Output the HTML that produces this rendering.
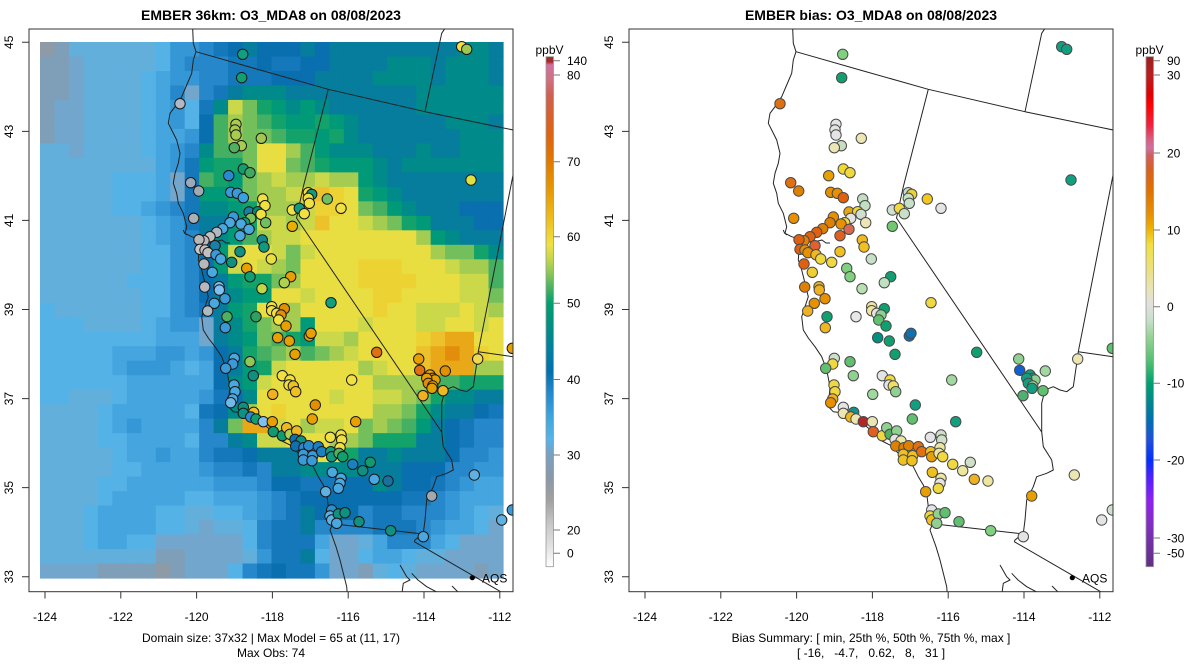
<!DOCTYPE html>
<html>
<head>
<meta charset="utf-8">
<style>
  html,body{margin:0;padding:0;background:#fff;}
  svg{display:block;}
  text{font-family:"Liberation Sans", Arial, sans-serif;fill:#000;}
</style>
</head>
<body>
<svg id="root" width="1200" height="672" viewBox="0 0 1200 672" xmlns="http://www.w3.org/2000/svg">
  <defs>
    <clipPath id="clipBox"><rect x="29" y="29" width="484" height="562.7"/></clipPath>
    <linearGradient id="cbL" x1="0" y1="0" x2="0" y2="1">
      <stop offset="0.000" stop-color="#a52a2a"/>
      <stop offset="0.010" stop-color="#a52a2a"/>
      <stop offset="0.016" stop-color="#d070a0"/>
      <stop offset="0.045" stop-color="#d07080"/>
      <stop offset="0.075" stop-color="#d06050"/>
      <stop offset="0.114" stop-color="#d86030"/>
      <stop offset="0.153" stop-color="#dc6410"/>
      <stop offset="0.202" stop-color="#e07800"/>
      <stop offset="0.261" stop-color="#e89800"/>
      <stop offset="0.310" stop-color="#ecb818"/>
      <stop offset="0.344" stop-color="#f0d030"/>
      <stop offset="0.369" stop-color="#f0e040"/>
      <stop offset="0.395" stop-color="#c8d848"/>
      <stop offset="0.422" stop-color="#90c858"/>
      <stop offset="0.457" stop-color="#40b060"/>
      <stop offset="0.483" stop-color="#00a070"/>
      <stop offset="0.526" stop-color="#009080"/>
      <stop offset="0.575" stop-color="#0080a0"/>
      <stop offset="0.618" stop-color="#0070b0"/>
      <stop offset="0.657" stop-color="#2088cc"/>
      <stop offset="0.712" stop-color="#40a8e0"/>
      <stop offset="0.751" stop-color="#56b4e9"/>
      <stop offset="0.781" stop-color="#7aa0c0"/>
      <stop offset="0.826" stop-color="#8a98a8"/>
      <stop offset="0.869" stop-color="#a0a0a0"/>
      <stop offset="0.918" stop-color="#c8c8c8"/>
      <stop offset="0.958" stop-color="#e0e0e0"/>
      <stop offset="1.000" stop-color="#ffffff"/>
    </linearGradient>
    <linearGradient id="cbR" x1="0" y1="0" x2="0" y2="1">
      <stop offset="0.000" stop-color="#9a2020"/>
      <stop offset="0.036" stop-color="#b82020"/>
      <stop offset="0.075" stop-color="#e00000"/>
      <stop offset="0.095" stop-color="#ff0000"/>
      <stop offset="0.134" stop-color="#f02040"/>
      <stop offset="0.163" stop-color="#d86080"/>
      <stop offset="0.179" stop-color="#d070a0"/>
      <stop offset="0.193" stop-color="#d06060"/>
      <stop offset="0.222" stop-color="#d86020"/>
      <stop offset="0.261" stop-color="#e07000"/>
      <stop offset="0.310" stop-color="#e89000"/>
      <stop offset="0.336" stop-color="#eeb000"/>
      <stop offset="0.369" stop-color="#f0e040"/>
      <stop offset="0.418" stop-color="#ece080"/>
      <stop offset="0.457" stop-color="#e8e4b8"/>
      <stop offset="0.487" stop-color="#e0e0e0"/>
      <stop offset="0.516" stop-color="#c8e0c8"/>
      <stop offset="0.555" stop-color="#90d090"/>
      <stop offset="0.598" stop-color="#50c070"/>
      <stop offset="0.640" stop-color="#00a070"/>
      <stop offset="0.673" stop-color="#008a8a"/>
      <stop offset="0.712" stop-color="#0070b0"/>
      <stop offset="0.751" stop-color="#2050d8"/>
      <stop offset="0.791" stop-color="#0030ff"/>
      <stop offset="0.826" stop-color="#5020ff"/>
      <stop offset="0.869" stop-color="#9020f0"/>
      <stop offset="0.918" stop-color="#8030c0"/>
      <stop offset="1.000" stop-color="#603080"/>
    </linearGradient>
  </defs>

  <!-- Titles -->
  <text x="271" y="20" font-size="14" font-weight="bold" text-anchor="middle">EMBER 36km: O3_MDA8 on 08/08/2023</text>
  <text x="871" y="20" font-size="14" font-weight="bold" text-anchor="middle">EMBER bias: O3_MDA8 on 08/08/2023</text>

  <!-- Map groups (filled by script) -->
  <g id="panelL"><g id="mapL" clip-path="url(#clipBox)"></g></g>
  <g id="panelR" transform="translate(600,0)"><g id="mapR" clip-path="url(#clipBox)"></g></g>

  <!-- Axes -->
  <g stroke="#333" stroke-width="1" fill="none">
    <rect x="29" y="29" width="484" height="562.7"/>
    <rect x="629" y="29" width="484" height="562.7"/>
    <path d="M22 42.3H29M22 131.4H29M22 220.4H29M22 309.5H29M22 398.6H29M22 487.6H29M22 576.7H29"/>
    <path d="M622 42.3H629M622 131.4H629M622 220.4H629M622 309.5H629M622 398.6H629M622 487.6H629M622 576.7H629"/>
    <path d="M45 591.7V598.5M120.8 591.7V598.5M196.6 591.7V598.5M272.4 591.7V598.5M348.2 591.7V598.5M424 591.7V598.5M499.8 591.7V598.5"/>
    <path d="M645 591.7V598.5M720.8 591.7V598.5M796.6 591.7V598.5M872.4 591.7V598.5M948.2 591.7V598.5M1024 591.7V598.5M1099.8 591.7V598.5"/>
  </g>
  <g font-size="12" text-anchor="middle">
    <text transform="translate(13,42.3) rotate(-90)">45</text>
    <text transform="translate(13,131.4) rotate(-90)">43</text>
    <text transform="translate(13,220.4) rotate(-90)">41</text>
    <text transform="translate(13,309.5) rotate(-90)">39</text>
    <text transform="translate(13,398.6) rotate(-90)">37</text>
    <text transform="translate(13,487.6) rotate(-90)">35</text>
    <text transform="translate(13,576.7) rotate(-90)">33</text>
    <text transform="translate(613,42.3) rotate(-90)">45</text>
    <text transform="translate(613,131.4) rotate(-90)">43</text>
    <text transform="translate(613,220.4) rotate(-90)">41</text>
    <text transform="translate(613,309.5) rotate(-90)">39</text>
    <text transform="translate(613,398.6) rotate(-90)">37</text>
    <text transform="translate(613,487.6) rotate(-90)">35</text>
    <text transform="translate(613,576.7) rotate(-90)">33</text>
    <text x="45" y="621">-124</text>
    <text x="120.8" y="621">-122</text>
    <text x="196.6" y="621">-120</text>
    <text x="272.4" y="621">-118</text>
    <text x="348.2" y="621">-116</text>
    <text x="424" y="621">-114</text>
    <text x="499.8" y="621">-112</text>
    <text x="645" y="621">-124</text>
    <text x="720.8" y="621">-122</text>
    <text x="796.6" y="621">-120</text>
    <text x="872.4" y="621">-118</text>
    <text x="948.2" y="621">-116</text>
    <text x="1024" y="621">-114</text>
    <text x="1099.8" y="621">-112</text>
    <text x="271" y="642">Domain size: 37x32 | Max Model = 65 at (11, 17)</text>
    <text x="271" y="657">Max Obs: 74</text>
    <text x="871" y="642">Bias Summary: [ min, 25th %, 50th %, 75th %, max ]</text>
    <text x="871" y="657" xml:space="preserve">[ -16,   -4.7,   0.62,   8,   31 ]</text>
  </g>

  <!-- AQS labels -->
  <circle cx="472.3" cy="577.7" r="2.6" fill="#000"/>
  <text x="482" y="582.5" font-size="12">AQS</text>
  <circle cx="1072.3" cy="577.7" r="2.6" fill="#000"/>
  <text x="1082" y="582.5" font-size="12">AQS</text>

  <!-- Left colorbar -->
  <rect x="546" y="56.7" width="7.5" height="510" fill="url(#cbL)" stroke="#999" stroke-width="0.8"/>
  <g stroke="#777" stroke-width="1">
    <path d="M553.5 60.7H560M553.5 75H560M553.5 161.7H560M553.5 236.7H560M553.5 303.3H560M553.5 379.5H560M553.5 455H560M553.5 530H560M553.5 553.3H560"/>
  </g>
  <g font-size="12">
    <text x="549.5" y="54" text-anchor="middle">ppbV</text>
    <text x="567" y="65">140</text>
    <text x="567" y="79.5">80</text>
    <text x="567" y="166">70</text>
    <text x="567" y="241">60</text>
    <text x="567" y="307.5">50</text>
    <text x="567" y="384">40</text>
    <text x="567" y="459.5">30</text>
    <text x="567" y="534.5">20</text>
    <text x="567" y="557.5">0</text>
  </g>

  <!-- Right colorbar -->
  <rect x="1146" y="56.7" width="7.5" height="510" fill="url(#cbR)" stroke="#999" stroke-width="0.8"/>
  <g stroke="#777" stroke-width="1">
    <path d="M1153.5 60.7H1160M1153.5 75H1160M1153.5 153H1160M1153.5 230H1160M1153.5 306.7H1160M1153.5 383.3H1160M1153.5 460H1160M1153.5 538H1160M1153.5 553.3H1160"/>
  </g>
  <g font-size="12">
    <text x="1149.5" y="54" text-anchor="middle">ppbV</text>
    <text x="1167" y="65">90</text>
    <text x="1167" y="79.5">30</text>
    <text x="1167" y="157.5">20</text>
    <text x="1167" y="234.5">10</text>
    <text x="1167" y="311">0</text>
    <text x="1167" y="387.5">-10</text>
    <text x="1167" y="464.5">-20</text>
    <text x="1167" y="542.5">-30</text>
    <text x="1167" y="557.5">-50</text>
  </g>
</svg>

<script>
(function(){
  var NS="http://www.w3.org/2000/svg";
  var cmap={A:'#8e9aa5',B:'#7f9fb8',C:'#72a6cc',D:'#62afdc',E:'#55b2e6',F:'#44a5df',G:'#3597d5',H:'#2688ca',I:'#1478bb',J:'#0a6fae',K:'#067d9c',L:'#008b8a',M:'#009a78',N:'#13a26a',O:'#45b062',P:'#72bf5c',Q:'#a4cc50',R:'#cbd849',S:'#e8de42',T:'#edd234',U:'#ecc12c',V:'#e9a818',W:'#e28e0c'};
  var rows=[
"AB"+"DDDDDD"+"EGGHIJKJJJ"+"KJKKKKKKKKKLLK",
"BB"+"CDDDDD"+"EGHHHIIJII"+"JJKKKKLLLKLLLK",
"BBCDDDDE"+"FGGHHIIIJJ"+"JKKKKLLLLKLLLK",
"BBCDDDDE"+"FHCHIKLLLK"+"KKKKKKKKLLLLLL",
"BCCDDDDE"+"FGEILRPNML"+"MLKKKKKKLLLLLL",
"BCCDDDDE"+"FGEJOQPONM"+"MNMLKKKKKKLLLK",
"BCCDDDDE"+"FFGJOQPPON"+"NMNLKKKKKKKLLL",
"DDCDDDDE"+"FGHLOOPSSQ"+"OMLLLKKKLKKLLL",
"DDDDDDDD"+"FGIMNNPSSP"+"ONMMMLKLLLLLLL",
"DDDDDEEE"+"FCIONMPQRQ"+"QRQQMLKKKKKKKK",
"DDDDDEEE"+"FCIMMNPQQR"+"TUTSNMLKKKKKKK",
"DDDDDEEF"+"GHILLMNQQQ"+"RTTSPOMLKKKJJJ",
"DDDDDDDE"+"FGIKKMNRRQ"+"RUSSRQPNMKKKJJ",
"DDDDDDDE"+"FGHKLMOQRR"+"SSSSSSSSQMLKKK",
"DDDDDDDE"+"EGHJMRSSRP"+"RSSSSSSSSQPPNL",
"DDDDDDDE"+"EGHJMRSRQP"+"SSSSTTTSSSRQQO",
"DDDDDDEE"+"EGHJKMNNPQ"+"SSSSTTTTSSSRRO",
"DDDDDDDE"+"EGHJKLMMSS"+"RSSSSTTSSSSRRP",
"EDDDDDDE"+"EGHIKMNSSQ"+"SSSSSTSSRRRSRQ",
"EEEDDDDE"+"FGGCKLNPQQ"+"MSSSRSSSRRSSRS",
"EEEEEEEE"+"FFFCKLMPON"+"MRRQSSSSTUVVSS",
"EEEEEFFF"+"GGFGJKNOPQ"+"OPQRSSSSUVWVTS",
"EEEEEFGG"+"GFEFJKMNRS"+"SSSSQRSSUVVVQQ",
"EEEEEEFF"+"FFFFJLMRSS"+"SSSSSQQQQOONNN",
"EEDDDEFF"+"FFFGIJLSSS"+"SSRSSRRQPNLLKK",
"DDDDEFFF"+"FFEIJLQSTS"+"SSSSSQQPNLKKJI",
"DDDDEFGF"+"FFFHKPVVRS"+"QRRSPQPOMKJIHH",
"DDDDEEFF"+"FFEHHKLRRS"+"SSQQPNNNKKJIHH",
"DDDDDEFF"+"GFFHIIJKKK"+"SSSNKKLKKKJHHG",
"DDDDDEEF"+"FFFGHHIHKK"+"LLLLKKKJJJHHGG",
"DDDDEEFF"+"FFFFGGGHJJ"+"IIIJJLKJJIHGFF",
"DDDDEFFF"+"FFEEFFFGHI"+"JJJJJJJIIHGFFF",
"DDDEFFFF"+"EEDDEEFGHI"+"KJJJHIIHHHGFED",
"DDDEFFFF"+"EEDCDDEHII"+"KHHHHIIIHGFFEC",
"DDDEFFEE"+"CCCCCCEHII"+"IFCCDFHHHFECCC",
"DDDDDDDD"+"BBCCCCDGII"+"KECCEFFEDDCCCC",
"CCCCBBBB"+"ABCCCEHIJI"+"IGCCBDEDCCCCBC"
  ];
  function el(tag,attrs,parent){var e=document.createElementNS(NS,tag);for(var k in attrs)e.setAttribute(k,attrs[k]);if(parent)parent.appendChild(e);return e;}

  var mapL=document.getElementById('mapL'), mapR=document.getElementById('mapR');
  var x0=40,y0=42,cw=463/32,ch=536/37;
  for(var r=0;r<37;r++){
    var s=rows[r]; while(s.length<32)s+=s.charAt(s.length-1);
    for(var c=0;c<32;c++){
      var col=cmap[s.charAt(c)]||'#62afdc';
      el('rect',{x:(x0+c*cw).toFixed(2),y:(y0+r*ch).toFixed(2),width:(cw+0.6).toFixed(2),height:(ch+0.6).toFixed(2),fill:col},mapL);
    }
  }
  var lines=[
    [[192.7,29],[193.3,43.3],[196,51.7],[193.3,60],[191.7,73.3],[186.7,85],[181.7,96.7],[175,106.7],[170,113.3],[168.3,123.3],[171.7,130],[176.7,140],[180,153.3],[178.3,163.3],[175,173.3],[173.3,183.3],[176.7,193.3],[178.3,203.3],[183.3,213.3],[186.7,226.7],[185,233.3],[191.7,236.7],[196,238],[200,243.3],[199,250],[198.3,260],[201.7,270],[205,283.3],[208.3,296.7],[205,306.7],[201.7,316.7],[203.3,330],[208.3,338],[215,346.7],[221.7,356.7],[226.7,370],[230,386.7],[228.3,406.7],[233.3,411.7],[246.7,413.3],[256.7,420],[266.7,426.7],[276.7,435],[280,440],[290,445],[298.3,453.3],[306.7,460],[313.3,466.7],[318.3,476.7],[323.3,485],[326.7,493.3],[328.3,506.7],[330,516.7],[333,523],[330,530],[336,546.7],[340,560],[341.7,566.7],[346.7,586.7],[347.3,595]],
    [[200,243.3],[206,241],[213,243],[218,241],[222,240],[226,243],[230,243]],
    [[183.3,230],[184.5,233],[187,235]],
    [[196,51.7],[260,70],[328.3,89.3],[425,111.7],[513.3,130]],
    [[446,27],[441.7,33.3],[425,111.7]],
    [[328.3,89.3],[303.3,186.7],[296.5,218],[441.7,432]],
    [[515,165],[478.3,351.7],[515,357]],
    [[478.3,351.7],[476.7,363.3],[473.3,386.7],[466.7,391.7],[460,390],[453.3,386.7],[445,390],[441.7,403.3],[441.7,431.7],[443.3,446.7],[451.7,460],[453.3,470],[446.7,473.3],[436.7,476.7],[433.3,486.7],[426.7,500],[425,520],[423.3,533.3],[415,540],[414.3,541.7]],
    [[335,524],[423.3,534]],
    [[414.3,541.7],[515,600]],
    [[400,565],[406.7,576.7],[410,580],[403.3,583.3],[401.7,595]],
    [[411.7,573.3],[418,580],[426.7,586.7],[436.7,592]],
    [[452,586],[458,592]]
  ];
  function addLines(g){
    lines.forEach(function(L){
      var d='M'+L.map(function(p){return p[0]+' '+p[1];}).join('L');
      el('path',{d:d,fill:'none',stroke:'#222','stroke-width':'1','stroke-linejoin':'round'},g);
    });
  }
  addLines(mapL); addLines(mapR);

  var st=[
[242.7,54.3,'#10a080','#80d080'],[241.7,77.7,'#10a070','#10a070'],[180,103.7,'#b0b8c4','#e07010'],
[236,124.3,'#a8cc50','#e4e4e4'],[235,130,'#a8cc50','#e4e4e4'],[236,135,'#a8cc50','#e4e4e4'],
[261.3,138.3,'#a0c850','#ece6b4'],[241.3,145.7,'#a8cc50','#c8dcc0'],[234.3,147.7,'#50b060','#ece6b4'],
[243.3,169,'#10a070','#f0d830'],[250,172.7,'#40a860','#f0d840'],[228.7,175.7,'#2a8ad0','#e8a000'],
[190.7,182.7,'#9aaabb','#e07010'],[198.7,191,'#a0aab4','#e08000'],[230.7,192.3,'#3a9ad8','#e89000'],
[237.3,193.3,'#3a9ad8','#e89000'],[243.3,197.7,'#3aa0e0','#e06010'],[262.7,199,'#f0e040','#c0e0c0'],
[265,205.7,'#f0e040','#c0e0c0'],[249,212,'#1a7fa0','#e8a810'],[257.7,211.7,'#009070','#f0d840'],
[261,214.3,'#f0e040','#d0e0d0'],[250.7,218.3,'#80c058','#e4e4e4'],[244.7,222.7,'#10a080','#f0d840'],
[265.7,222.7,'#70c060','#ece6b4'],[233.3,217,'#3a9ad8','#e89000'],[230,222.7,'#4aa8e0','#e08000'],
[241,224,'#4aa8e0','#e89000'],[193.7,218.3,'#a8b0b8','#e89000'],[222.7,228.7,'#4aa8e0','#e08000'],
[216.7,232.3,'#b0b8c0','#e06010'],[210,236.7,'#c0c0c0','#e06010'],[204,240.7,'#b8b8b8','#e88000'],
[199,239.7,'#b8b8b8','#e06010'],[215,245.7,'#1a80a8','#e06030'],[240,235.7,'#4aa8e0','#e06020'],
[249,229.3,'#4aa8e0','#d86850'],[262.3,240,'#108a90','#f0b820'],[264,247,'#109a80','#f0c020'],
[200,249.3,'#c8c8c8','#e06010'],[205,250,'#c0c0c0','#e89000'],[208,252.7,'#c0c0c0','#e89000'],
[216,254.7,'#3a9ad8','#f0b820'],[220.7,259,'#4aa8e0','#f0d840'],[240,251.7,'#109080','#f0c020'],
[231.7,262.3,'#109080','#f0d840'],[204,264,'#b8b8b8','#e06010'],[212.3,272.3,'#4aa8e0','#f0d030'],
[246.7,268.3,'#e8a000','#80d080'],[250,276.7,'#10a070','#80d080'],[271.3,259,'#e8e040','#c8e0c8'],
[290.7,276.7,'#e8a000','#10a070'],[284.3,282.7,'#b0d050','#c0e0c0'],[262,288.7,'#c0d848','#b8e0b0'],
[204.7,287,'#b8b8c0','#e08000'],[219,286.7,'#80c0f0','#f0b020'],[219.3,290,'#80c0f0','#f0b020'],
[225,298.7,'#3a9ad8','#e89000'],[214.3,303.3,'#4aa8e0','#e89000'],[207.7,311,'#b0b8c0','#f0b020'],
[227,316.7,'#50b060','#10a070'],[256,316.7,'#30a060','#e8e8e8'],[271.7,306.7,'#f0e040','#f0e4a0'],
[271.7,310.7,'#f0e040','#f0e4a0'],[276.7,313.3,'#f0e040','#e4e4e4'],[284.3,308.7,'#e09000','#10a070'],
[281,315,'#e09000','#90d090'],[278.7,320,'#f0e040','#60c070'],[286,326,'#e8a000','#10a070'],
[225.3,327.7,'#3a9ad8','#f0b820'],[292.3,210,'#f0e040','#d0e0d0'],[299.3,208.3,'#109a80','#f0d840'],
[292.3,226.3,'#e8b000','#70c870'],[304.3,213.7,'#f0e040','#c8e0c8'],[308.3,192.7,'#f0e040','#c8e0c8'],
[311.7,194.3,'#109a80','#f0d030'],[308.3,198.3,'#f0e040','#c8e0c8'],[309.3,203.3,'#f0e040','#c8e0c8'],
[327.3,199,'#70c060','#f0c820'],[341,208.3,'#f0e040','#e4e4e4'],[461.7,46.7,'#f0e040','#10a080'],
[466.7,49.3,'#a0c850','#10a080'],[471,180,'#e0e040','#10a080'],[331,302.7,'#10a080','#f0d840'],
[277.7,337.7,'#e8a000','#009080'],[289.3,341,'#e8a000','#10a070'],[309.3,336,'#e8a000','#1070b0'],
[311,333.3,'#e8a000','#1070b0'],[295,354.3,'#e8a000','#10a070'],[376.7,352.3,'#e07010','#10a070'],
[234.3,358.3,'#4aa8e0','#d0e0c8'],[232.7,364,'#3a9ad8','#f0d840'],[225.7,368.3,'#3a9ad8','#60c070'],
[250,361.7,'#90c858','#60c070'],[253.3,375.7,'#109080','#90d090'],[282.3,375.7,'#f0e040','#e4e4e4'],
[290,380,'#f0e040','#f0d840'],[289,385,'#f0e040','#e4e4e4'],[293.3,386,'#f0c020','#f0e060'],
[295.7,391.7,'#f0c020','#90d090'],[272.7,394.3,'#f0b020','#a0d8a0'],[351.7,380,'#f0e040','#a0d8a0'],
[315.3,405,'#e09000','#10a080'],[312.3,419,'#e8a000','#60c070'],[355.7,421.7,'#e8a000','#10a080'],
[234,385,'#4aa8e0','#f0d840'],[235,391.7,'#4aa8e0','#f0d840'],[232.7,399,'#4aa8e0','#f0b020'],
[230.7,402.7,'#70b8e8','#e89000'],[243.3,407.3,'#109080','#e4e4e4'],[243.3,413.3,'#109080','#ece6b4'],
[253.7,412.3,'#f0c020','#109090'],[250.7,417,'#2a8ad0','#f0b820'],[256,419,'#10a070','#ece6b4'],
[263.3,421.7,'#80c0f0','#b02828'],[272.3,421.7,'#e8a000','#ece6b4'],[273.3,431.7,'#109a70','#e06020'],
[282.3,435.7,'#109a70','#f0d840'],[286.7,427.7,'#f0b820','#90d090'],[290,434.3,'#b0d050','#50b060'],
[296.7,431,'#f0b820','#90d090'],[295,439.3,'#1070b0','#e4e4e4'],[301,441,'#109080','#ece6a0'],
[295.7,446,'#1070b0','#e08000'],[304,447.7,'#2a8ad0','#e08000'],[308.7,445.7,'#2a8ad0','#e08000'],
[303.3,454.3,'#3a9ad8','#f0c020'],[303.3,460,'#3a9ad8','#f0c020'],[312.7,455.7,'#3a9ad8','#f0c020'],
[312,460.7,'#3a9ad8','#f0c020'],[318.3,446.7,'#1a80c0','#e07010'],[321.7,451.7,'#1a80c0','#e07010'],
[330.3,437.3,'#f0e040','#e4e4e4'],[341,435,'#f0e040','#d0e0c8'],[341.7,440,'#f0e040','#d0e0c8'],
[340,447.7,'#f0e040','#ece6a0'],[330.7,451.7,'#109a80','#f0c020'],[331.7,456.7,'#109a80','#e8a000'],
[339,453.3,'#50b060','#ece6a0'],[342.7,456.7,'#10a070','#f0d840'],[352.7,464.3,'#1a80c0','#f0d840'],
[362.7,470.7,'#109080','#ece6a0'],[370.3,462.3,'#109a70','#d0e0c8'],[374.3,479.3,'#4aa8e0','#f0b020'],
[388,481,'#1a70a0','#ece6a0'],[332.3,472.3,'#4aa8e0','#f0c020'],[341,478.3,'#4aa8e0','#ece6a0'],
[340,483.3,'#4aa8e0','#e4e4e4'],[338.3,488.3,'#4aa8e0','#f0d840'],[325.7,491.7,'#60b0e0','#e8a000'],
[331.7,510,'#2a90d0','#e4e4e4'],[330,516,'#60b0e0','#f0d840'],[331.7,520,'#60b0e0','#f0c020'],
[338.3,514,'#109080','#90d090'],[345,512.7,'#109080','#60c070'],[336.7,523.3,'#4aa8e0','#90d090'],
[359,521.7,'#109080','#60c070'],[390.7,530.7,'#109080','#80d080'],[423.3,536.7,'#4aa8e0','#e4e4e4'],
[431.7,496,'#a0a8b0','#e8a000'],[418.7,359,'#e8a000','#90d090'],[419.7,370.3,'#e07010','#1060d0'],
[430,375,'#e8a000','#10a080'],[432.7,378.3,'#e09000','#10a080'],[435,380,'#e8a000','#90d090'],
[426.7,378.3,'#e8a000','#10a080'],[428.3,383.3,'#e09000','#10a080'],[432.7,386,'#e8a000','#90d090'],
[432,388.3,'#e8a000','#10a080'],[445.3,371,'#e09000','#a0d8a0'],[443,390.7,'#f0b820','#60c070'],
[423,395.7,'#f0b020','#50b070'],[477.7,359,'#f0d850','#ece6b4'],[512.3,348.3,'#e8a000','#60c070'],
[474.3,475,'#60b0e0','#ece6b4'],[501.7,520,'#60b0e0','#e4e4e4'],[512.3,510,'#3a9ad8','#d0e0d0']
  ];
  st.forEach(function(s){
    el('circle',{cx:s[0],cy:s[1],r:'5.2',fill:s[2],stroke:'#1a1a1a','stroke-width':'1'},mapL);
    el('circle',{cx:s[0],cy:s[1],r:'5.2',fill:s[3],stroke:'#4a4a4a','stroke-width':'1'},mapR);
  });
})();
</script>
</body>
</html>
